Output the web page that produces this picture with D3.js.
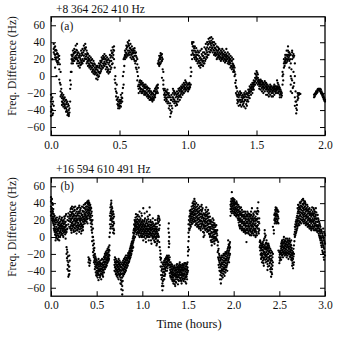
<!DOCTYPE html>
<html><head><meta charset="utf-8">
<script src="https://cdn.jsdelivr.net/npm/d3@7"></script>
<style>html,body{margin:0;padding:0;background:#fff;}svg{display:block;} svg text{font-family:"Liberation Serif","DejaVu Serif",serif !important;}</style>
</head><body>
<svg id="chart" width="339" height="339"></svg>
<script>
// Panel titles / labels
const titleA = "+8 364 262 410 Hz";
const titleB = "+16 594 610 491 Hz";
const tagA = "(a)", tagB = "(b)";
const yLabel = "Freq. Difference (Hz)";
const xLabel = "Time (hours)";
const yTicks = [-60,-40,-20,0,20,40,60];
const xTicksA = [0,0.5,1.0,1.5,2.0];
const xTicksB = [0,0.5,1.0,1.5,2.0,2.5,3.0];

// Panel (a): [time (h), freq differences (Hz) observed near that time...]
const seriesA = [
[0.00,-22,-30,-36,-42,-47],[0.01,-25,-33,-40,-46,20],[0.02,38,32,28,-35],[0.03,35,30,25,22,10],
[0.04,30,26,22,18,0],[0.05,26,22,18,14],[0.06,24,20,8,-4],[0.07,5,-10,-18,-24],
[0.08,-20,-26,-30,-34],[0.09,-22,-28,-32,-36],[0.10,-25,-30,-35,-38],[0.11,-28,-33,-38,-42],
[0.12,-30,-36,-42,-46],[0.13,-35,-40,-45,-47],[0.14,-30,-15,-5],[0.15,5,15,20,25],
[0.16,15,20,25,30],[0.17,18,22,27,32],[0.18,20,24,28,36],[0.19,15,20,25,30,38],
[0.20,12,18,22,28],[0.21,10,16,22,26],[0.22,14,18,24,30],[0.23,15,20,25,32],
[0.24,18,24,30,36],[0.25,20,26,32,38],[0.26,15,20,25,30],[0.27,12,18,22,26],
[0.28,10,14,20,24],[0.29,8,12,16,22],[0.30,5,10,15,20],[0.31,3,8,12,18],
[0.32,2,6,10,14],[0.33,-3,4,8,12],[0.34,-4,2,7,12],[0.35,0,5,10,15],
[0.36,4,9,14,18],[0.37,8,12,18,22],[0.38,10,15,20,24],[0.39,12,17,22,26],
[0.40,8,14,20,24],[0.41,5,10,16,22],[0.42,3,8,14,20],[0.43,5,12,18,25],
[0.44,10,18,24,30],[0.45,15,22,28,34],[0.46,20,30,35],[0.47,0,-8,-15],
[0.48,-10,-20,-28],[0.49,-25,-30,-35,-38],[0.50,-28,-32,-36,-38],[0.51,-22,-28,-32,-36],
[0.52,-20,-26,-30],[0.53,-10,5,20],[0.54,20,25,30,24],[0.55,22,27,32,36],
[0.56,24,30,35,40],[0.57,25,30,36,42],[0.58,22,28,33,38],[0.59,20,26,30,35],
[0.60,22,27,32,30],[0.61,18,24,30,33],[0.62,10,18,24,28],[0.63,5,14,20,-5],
[0.64,-10,-15,-20,10],[0.65,-5,-10,-14,-18],[0.66,-6,-10,-15,-20],[0.67,-8,-12,-16,-20],
[0.68,-10,-14,-18,-22],[0.69,-10,-14,-18,-22],[0.70,-12,-16,-20,-24],[0.71,-14,-18,-22,-26],
[0.72,-15,-20,-24,-28],[0.73,-18,-22,-26,-28],[0.74,-20,-24,-28,-30],[0.75,-18,-22,-26,-28],
[0.76,-15,-18,-22,-25],[0.77,-12,-16,-20],[0.78,-10,-14,-20,15],[0.79,12,16,20,24],
[0.80,15,20,24,27],[0.81,18,22,26,-2],[0.82,-5,-10,5,-15],[0.83,-15,-20,-25,-28],
[0.84,-18,-22,-26,-30],[0.85,-16,-20,-25,-32],[0.86,-20,-25,-32,-38],[0.87,-25,-32,-40,-48],
[0.88,-22,-28,-35,-42],[0.89,-15,-20,-25,-30],[0.90,-18,-22,-28,-32],[0.91,-20,-25,-30,-35],
[0.92,-18,-24,-30,-34],[0.93,-15,-20,-25,-30],[0.94,-14,-18,-24,-28],[0.95,-12,-16,-20,-25],
[0.96,-10,-14,-18,-22],[0.97,-8,-12,-16,-20],[0.98,-5,-10,-14,-18],[0.99,-8,-12,-16],
[1.00,-10,-14,-18],[1.01,-8,-12,-15],[1.02,0,10,-10],[1.03,20,30,38,40],
[1.04,25,30,35,40],[1.05,20,25,30,35],[1.06,18,22,28,33],[1.07,15,20,25,30],
[1.08,12,18,24,28],[1.09,10,16,22,30],[1.10,14,20,26,32],[1.11,12,18,24,28],
[1.12,15,22,28,34],[1.13,20,26,32,38],[1.14,22,28,34,40],[1.15,25,32,38,44],
[1.16,28,34,40,45],[1.17,30,36,42,46],[1.18,28,34,40,44],[1.19,25,30,36,40],
[1.20,24,28,33,38],[1.21,20,25,30,35],[1.22,22,26,30,34],[1.23,20,24,28,32],
[1.24,18,22,26,30],[1.25,20,24,28,32],[1.26,18,22,26,30],[1.27,16,20,25,28],
[1.28,18,22,26,32],[1.29,15,20,24,28],[1.30,14,18,22,26],[1.31,10,15,20,24],
[1.32,8,12,18,22],[1.33,5,10,14,20],[1.34,0,5,10],[1.35,-5,-12,-20],
[1.36,-18,-24,-28,-32],[1.37,-20,-25,-30,-35],[1.38,-18,-22,-28,-34],[1.39,-20,-25,-30,-36],
[1.40,-22,-26,-30,-34],[1.41,-20,-25,-30,-36],[1.42,-18,-24,-28,-38],[1.43,-20,-25,-30,-35],
[1.44,-16,-20,-25,-30],[1.45,-12,-16,-20,-26],[1.46,-10,-14,-18,-22],[1.47,-8,-12,-16,-20],
[1.48,-5,-8,-12,-16],[1.49,-2,3,-6,-10],[1.50,0,6,-4,-8],[1.51,-2,2,-6,-10],
[1.52,-5,-8,-12,-15],[1.53,-4,-8,-12,-16],[1.54,-6,-10,-14,-18],[1.55,-8,-12,-16,-20],
[1.56,-6,-10,-14,-18],[1.57,-8,-12,-16,-22],[1.58,-10,-14,-18,-22],[1.59,-12,-16,-20,-24],
[1.60,-10,-14,-18,-22],[1.61,-12,-16,-20,-24],[1.62,-14,-17,-20,-24],[1.63,-10,-14,-18,-22],
[1.64,-12,-15,-18,-20],[1.65,-5,-12,-16,-20],[1.66,-10,-14,-18,-20],[1.67,-14,-18,-22,-25],
[1.68,-18,-22,-25],[1.69,-10,0,5],[1.70,10,15,20],[1.71,15,18,22,25],
[1.72,16,20,25,30],[1.73,20,25,30,35],[1.74,18,24,28,10],[1.75,0,-10,-18,25,15],
[1.76,20,28,30,-5,-20],[1.77,22,26,5,-12],[1.78,15,0,-25,-35],[1.79,-30,-38,-44],
[1.80,-20,-24,-28],[1.81,-20,-22],[1.82,-21],
[1.92,-25,-22],[1.93,-22,-20],[1.94,-20,-18],[1.95,-17,-15],[1.96,-15,-17],
[1.97,-16,-19],[1.98,-20,-23],[1.99,-24,-27],[2.00,-28,-30]
];
// Panel (a): further readings between the columns above
const seriesA2 = [
[0.005,-27,-39],[0.015,-30,-44],[0.025,34,26],[0.035,31,20],[0.045,27,16],[0.055,24,16],[0.065,14,-8],
[0.075,-15,-22],[0.085,-24,-31],[0.095,-26,-33],[0.105,-28,-37],[0.115,-31,-40],[0.125,-33,-44],
[0.135,-38,-43],[0.145,-10,5],[0.155,18,23],[0.165,18,27],[0.175,21,29],[0.185,22,31],[0.195,18,27],
[0.205,15,24],[0.215,13,20],[0.225,16,27],[0.235,18,28],[0.245,21,33],[0.255,23,34],[0.265,17,27],
[0.275,15,20],[0.285,12,18],[0.295,10,19],[0.305,7,13],[0.315,5,15],[0.325,4,8],[0.335,1,10],
[0.345,-1,5],[0.355,3,12],[0.365,6,16],[0.375,10,20],[0.385,13,22],[0.395,15,20],[0.405,11,18],
[0.415,7,19],[0.425,5,16],[0.435,8,22],[0.445,14,27],[0.455,25,31],[0.465,10,-4],[0.475,-18,-24],
[0.485,-27,-33],[0.495,-30,-34],[0.505,-30,-35],[0.515,-25,-30],[0.525,-14,0],[0.535,12,22],
[0.545,23,28],[0.555,25,34],[0.565,27,38],[0.575,28,33],[0.585,25,31],[0.595,23,28],[0.605,20,28],
[0.615,15,27],[0.625,8,22],[0.635,-12,0],[0.645,-7,-12],[0.655,-8,-16],[0.665,-9,-18],[0.675,-11,-17],
[0.685,-12,-20],[0.695,-13,-20],[0.705,-14,-22],[0.715,-17,-24],[0.725,-18,-25],[0.735,-20,-27],
[0.745,-21,-26],[0.755,-17,-24],[0.765,-14,-20],[0.775,-11,-18],[0.785,14,18],[0.795,14,22],
[0.805,17,25],[0.815,20,8],[0.825,-17,-22],[0.835,-17,-23],[0.845,-19,-28],[0.855,-22,-30],
[0.865,-23,-35],[0.875,-28,-44],[0.885,-25,-38],[0.895,-17,-27],[0.905,-20,-30],[0.915,-22,-32],
[0.925,-21,-27],[0.935,-17,-23],[0.945,-16,-22],[0.955,-14,-18],[0.965,-12,-20],[0.975,-10,-14],
[0.985,-7,-16],[0.995,-10,-14],[1.005,-9,-16],[1.015,-10,-13],[1.025,5,25],[1.035,27,35],
[1.045,22,33],[1.055,23,28],[1.065,20,25],[1.075,17,28],[1.085,15,21],[1.095,13,19],[1.105,17,24],
[1.115,15,21],[1.125,18,26],[1.135,23,30],[1.145,25,37],[1.155,29,41],[1.165,31,38],[1.175,33,39],
[1.185,31,37],[1.195,27,33],[1.205,26,31],[1.215,22,28],[1.225,24,32],[1.235,22,26],[1.245,20,28],
[1.255,22,26],[1.265,20,24],[1.275,18,23],[1.285,20,24],[1.295,17,22],[1.305,16,20],[1.315,12,18],
[1.325,10,15],[1.335,7,12],[1.345,2,-8],[1.355,-14,-22],[1.365,-22,-30],[1.375,-23,-28],
[1.385,-20,-31],[1.395,-23,-28],[1.405,-24,-32],[1.415,-22,-28],[1.425,-21,-33],[1.435,-22,-28],
[1.445,-18,-23],[1.455,-14,-18],[1.465,-12,-16],[1.475,-10,-14],[1.485,-7,-10],[1.495,-3,2],
[1.505,-2,4],[1.515,-4,-8],[1.525,-6,-10],[1.535,-6,-10],[1.545,-8,-12],[1.555,-10,-14],
[1.565,-8,-12],[1.575,-10,-14],[1.585,-12,-16],[1.595,-14,-18],[1.605,-12,-16],[1.615,-14,-18],
[1.625,-12,-16],[1.635,-12,-16],[1.645,-14,-17],[1.655,-8,-14],[1.665,-12,-16],[1.675,-16,-20],
[1.685,-20,-23],[1.695,-5,2],[1.705,12,17],[1.715,16,20],[1.725,18,23],[1.735,22,28],[1.745,20,26],
[1.755,8,-3],[1.765,24,-14],[1.775,24,-8],[1.785,-18,-30],[1.795,-34,-40],[1.805,-22,-26],[1.815,-21],
[1.925,-24,-21],[1.935,-21,-18],[1.945,-19,-16],[1.955,-16,-15],[1.965,-15,-18],[1.975,-18,-21],
[1.985,-22,-25],[1.995,-26,-29]
];

// Panel (b): [time (h), freq differences (Hz) observed near that time...]
const seriesB = [
[0.00,47,42,36,30,25],[0.01,45,40,34,28,22],[0.02,38,30,24,18,28],[0.03,27,20,14,10],
[0.04,25,18,12,6],[0.05,22,15,8,2,-4],[0.06,20,12,6,0],[0.07,18,10,4,-2],
[0.08,20,14,8,2],[0.09,22,16,10,4,-4],[0.10,18,12,6,0],[0.11,20,14,10,5],
[0.12,23,16,10,4],[0.13,18,12,8,2],[0.14,20,15,10,5],[0.15,22,16,12,6],
[0.16,25,18,12,8,-2],[0.17,14,6,-12,-20],[0.18,20,10,-18,-28,-38],[0.19,28,15,-30,-40,-47],
[0.20,22,12,-22,-35,-44],[0.21,30,24,18,10],[0.22,34,26,20,14,8],[0.23,36,28,22,16,10],
[0.24,30,24,18,12],[0.25,35,26,20,14,6],[0.26,32,25,20,15,10],[0.27,28,22,16,10],
[0.28,30,24,18,12,4],[0.29,34,26,20,14,8],[0.30,30,22,16,10],[0.31,37,28,20,14,6],
[0.32,32,24,18,12],[0.33,28,22,16,10,4],[0.34,36,26,20,14],[0.35,30,24,18,12,8],
[0.36,38,30,24,18],[0.37,34,28,22,16],[0.38,40,32,26,20],[0.39,36,30,24,18],
[0.40,42,36,28,22,16],[0.41,43,38,32,26,-24,-30],[0.42,40,34,28,22,-26,-34],[0.43,38,32,26,20,-28],
[0.44,34,28,20,12],[0.45,25,15,5,-5],[0.46,10,0,-10,-18],[0.47,-8,-16,-24,-30],
[0.48,-20,-26,-32,-38],[0.49,-25,-30,-36,-42],[0.50,-28,-34,-40,-46],[0.51,-30,-36,-42,-48],
[0.52,-26,-32,-38,-44,-51],[0.53,-30,-35,-40,-45],[0.54,-28,-34,-40,-46],[0.55,-32,-38,-44,-50],
[0.56,-26,-32,-38,-44],[0.57,-30,-36,-42,-47],[0.58,-24,-30,-36,-42],[0.59,-20,-26,-32,-38],
[0.60,-18,-24,-30,-36],[0.61,-16,-22,-28,-34],[0.62,-14,-20,-26,-30],[0.63,-12,-18,-24,-28],
[0.64,-10,-16,-22,0],[0.65,10,20,28,35],[0.66,15,24,32,40,43],[0.67,10,18,26,34],
[0.68,5,14,22,30],[0.69,8,16,24,4],[0.70,-24,-30,-36],[0.71,-26,-32,-38,-44],
[0.72,-28,-34,-40,-46],[0.73,-30,-36,-42,-48],[0.74,-26,-32,-38,-44,-50],[0.75,-28,-34,-40,-46],
[0.76,-30,-36,-42,-48,-55],[0.77,-32,-40,-48,-56,-62],[0.78,-30,-38,-48,-58,-68],[0.79,-28,-34,-40,-46],
[0.80,-26,-32,-38,-44],[0.81,-24,-30,-36,-42],[0.82,-22,-28,-34,-40],[0.83,-25,-30,-36],
[0.84,-22,-28,-34],[0.85,-20,-25,-30],[0.86,-16,-22,-27],[0.87,-12,-18,-24],
[0.88,-8,-14,-20],[0.89,-5,-10,-16],[0.90,0,-6,-12,5],[0.91,4,10,-2,15],
[0.92,6,12,18,0],[0.93,8,14,20,27],[0.94,5,12,18,24],[0.95,6,12,18,26],
[0.96,2,8,14,20],[0.97,0,6,12,18,30],[0.98,4,10,16,22],[0.99,0,6,12,18,28],
[1.00,2,8,14,20],[1.01,-4,4,10,16,34],[1.02,0,6,12,18],[1.03,2,8,14,22],
[1.04,-6,4,10,16],[1.05,0,6,12,20,30],[1.06,2,8,14,24],[1.07,-4,4,10,18],
[1.08,0,6,12,26,35],[1.09,2,8,14,20],[1.10,-8,2,8,14],[1.11,0,6,12,18],
[1.12,4,10,16],[1.13,-4,2,8,14],[1.14,-6,0,6,12,20],[1.15,-2,4,10,16],
[1.16,-8,0,6,12],[1.17,16,22,4,-4],[1.18,18,24,8,0],[1.19,20,14,-12],
[1.20,-20,-27,-35],[1.21,-30,-40,-50],[1.22,-35,-45,-55,-63],[1.23,-30,-38,-46,-58],
[1.24,-28,-35,-42,-50],[1.25,-26,-32,-38,-44],[1.26,-24,-30,-36],[1.27,-22,-26,-32,-40],
[1.28,-24,-28,-34],[1.29,-22,-28,16,5,-5,-12],[1.30,-24,-30,-36,-43],[1.31,-30,-36,-42,-48],
[1.32,-32,-38,-44,-50],[1.33,-35,-40,-46,-52],[1.34,-36,-42,-48,-55],[1.35,-34,-40,-46,-52],
[1.36,-38,-44,-50,-58],[1.37,-36,-42,-48,-54],[1.38,-32,-38,-44,-50],[1.39,-36,-42,-48,-56],
[1.40,-34,-40,-46,-52],[1.41,-30,-36,-42,-48],[1.42,-33,-39,-45,-51],[1.43,-36,-42,-48,-55],
[1.44,-32,-38,-44,-50],[1.45,-34,-40,-46,-52],[1.46,-31,-37,-43,-49],[1.47,-35,-41,-47,-53],
[1.48,-33,-39,-45,-55],[1.49,-32,-38,-44,-50],[1.50,-12,-17,-22,-40],[1.51,0,10,20,-15],
[1.52,10,18,25,31],[1.53,12,20,26,32],[1.54,15,22,28,36],[1.55,16,24,30,40],
[1.56,18,26,34,42],[1.57,20,28,36,45],[1.58,14,22,30,38],[1.59,16,24,32,40],
[1.60,12,20,28,36],[1.61,14,22,30,38],[1.62,10,18,26,34],[1.63,12,20,28,36],
[1.64,8,16,24,32],[1.65,14,22,30,38],[1.66,10,18,26,34],[1.67,0,12,20,28],
[1.68,2,10,18,26],[1.69,8,16,24,32],[1.70,10,18,26,35],[1.71,6,14,22,30],
[1.72,8,16,24,32],[1.73,4,12,20,28],[1.74,0,8,16,24],[1.75,-4,4,12,20],
[1.76,-10,0,10,18],[1.77,-6,2,12,22],[1.78,-2,6,14,20],[1.79,-8,0,8,16],
[1.80,-4,4,12],[1.81,-2,6,14],[1.82,-4,2,8],[1.83,-6,-16,-24],
[1.84,-20,-28,-36],[1.85,-24,-32,-40,-50],[1.86,-26,-34,-42,-55],[1.87,-22,-30,-38,-46],
[1.88,-24,-32,-40,-48],[1.89,-20,-28,-36,-44],[1.90,-22,-30,-38,-46],[1.91,-18,-26,-34,-42],
[1.92,-20,-28,-36],[1.93,-16,-24,-32,-40],[1.94,-12,-20,-28,-4],[1.95,-10,-16,-24,-30],
[1.96,-6,-12,-20],[1.97,30,36,42],[1.98,28,34,40,53],[1.99,30,36,42,46],
[2.00,28,34,40,45],[2.01,26,32,38,44],[2.02,28,34,40],[2.03,24,30,36,42],
[2.04,26,32,38],[2.05,20,26,32,38],[2.06,14,22,30,36],[2.07,10,18,26,34],
[2.08,12,20,28,35],[2.09,8,16,24,32],[2.10,10,18,26],[2.11,6,14,22,30],
[2.12,8,16,24],[2.13,4,12,20,28],[2.14,10,18,26,-6],[2.15,8,16,24,30],
[2.16,4,12,20,28],[2.17,8,16,24],[2.18,2,10,18,26],[2.19,6,14,22,30],
[2.20,4,12,20,34],[2.21,8,16,24],[2.22,2,10,18,26],[2.23,6,14,22,30],
[2.24,0,8,16,24],[2.25,4,12,20,28],[2.26,27,34,10,18],[2.27,30,41,6],
[2.28,8,16,22],[2.29,-4,-10,-16],[2.30,-8,-14,-20,-26],[2.31,-10,-16,-22,-30],
[2.32,-6,-12,-20,-28],[2.33,-4,-12,-18,-26,-34],[2.34,8,4,-10,-18,-24],[2.35,2,-8,-14,-22,-30],
[2.36,-4,-12,-18,-26],[2.37,-10,-16,-24,-32,-39],[2.38,-8,-14,-20,-28],[2.39,-12,-18,-26,-34],
[2.40,-14,-22,-30,-38],[2.41,-16,-26,-36,-47],[2.42,-18,-28,-38,-44],[2.43,12,-20,-30],
[2.44,4,8],[2.45,16,22,28],[2.46,18,24,30,35],[2.47,16,22,28,34],
[2.48,20,26,32],[2.49,16,22,30,-16],[2.50,-18,-24,-31],[2.51,-20,-26,-16],
[2.52,-8,-14,-20,-27],[2.53,-4,-10,-16,-22],[2.54,-6,-12,-18,-24],[2.55,0,-8,-14,-20],
[2.56,-4,-10,-16,-22],[2.57,-2,-8,-14,-20],[2.58,-6,-12,-18,-24],[2.59,-4,-10,-16,-22],
[2.60,-8,-14,-20,-26],[2.61,-2,-8,-14,-20],[2.62,-6,-12,-18,-24],[2.63,-4,-10,-16,-22,-27],
[2.64,-16,-22,-28,-34],[2.65,-18,-26,-37],[2.66,-10,-20,-30],[2.67,0,6,12],
[2.68,4,12,18],[2.69,8,16,23],[2.70,12,20,28,34],[2.71,16,24,32,38],
[2.72,14,22,30,36],[2.73,18,26,34,40],[2.74,16,24,32,42],[2.75,20,28,36,44],
[2.76,18,26,34,45],[2.77,16,24,32,40],[2.78,20,28,36,42],[2.79,14,22,30,38],
[2.80,18,26,34],[2.81,12,20,28,36],[2.82,14,22,30],[2.83,10,18,26,34],
[2.84,12,20,28],[2.85,8,16,24,32],[2.86,10,18,26,35],[2.87,12,20,28],
[2.88,8,16,24,32],[2.89,14,22,30],[2.90,10,18,26,34],[2.91,8,14,22],
[2.92,10,18,26],[2.93,4,12,20],[2.94,0,8,16],[2.95,-4,4,12],
[2.96,-10,-2,8],[2.97,-16,-6,4],[2.98,-20,-10,0,10],[2.99,-27,-14,-4,6],
[3.00,-22,-8,2]
];
// Panel (b): further readings between the columns above
const seriesB2 = [
[0.005,44,33,26],[0.015,40,31,20],[0.025,22,16,33],[0.035,24,8,15],[0.045,20,10,3],[0.055,17,5,-1],
[0.065,23,9,2],[0.075,15,7,-3],[0.085,17,11,0],[0.095,24,13,6],[0.105,15,8,2],[0.115,21,12,3],
[0.125,19,7,13],[0.135,16,10,0],[0.145,24,12,7],[0.155,18,9,3],[0.165,27,14,5],[0.175,9,-15,-25],
[0.185,24,-23,-33],[0.195,19,-35,-45],[0.205,26,-28,-40],[0.215,33,21,12],[0.225,29,17,5],
[0.235,33,24,13],[0.245,27,15,8],[0.255,31,22,11],[0.265,36,18,7],[0.275,25,19,13],[0.285,33,21,8],
[0.295,28,17,11],[0.305,35,25,13],[0.315,30,22,9],[0.325,34,20,15],[0.335,26,13,7],[0.345,31,23,11],
[0.355,35,21,15],[0.365,34,27,20],[0.375,39,25,19],[0.385,36,29,23],[0.395,41,33,21],[0.405,39,31,25],
[0.415,41,35,29,-27],[0.425,37,31,24,-31],[0.435,35,23,16],[0.445,30,18,8],[0.455,20,10,0],
[0.465,-4,-14,-22],[0.475,-13,-21,-28],[0.485,-23,-29,-35],[0.495,-27,-33,-45],[0.505,-31,-37,-43],
[0.515,-33,-40,-45],[0.525,-29,-35,-41],[0.535,-32,-38,-48],[0.545,-31,-37,-43],[0.555,-27,-35,-41],
[0.565,-33,-39,-45],[0.575,-27,-33,-39],[0.585,-23,-29,-35],[0.595,-22,-29,-35],[0.605,-20,-27,-33],
[0.615,-19,-25,-31],[0.625,-16,-23,-28],[0.635,-15,-21,-26],[0.645,5,15,25],[0.655,12,22,30,38],
[0.665,20,28,36],[0.675,13,22,30],[0.685,10,18,27],[0.695,-27,-33,-40],[0.705,-29,-35,-41],
[0.715,-30,-37,-43],[0.725,-33,-39,-45],[0.735,-29,-35,-41],[0.745,-31,-37,-44],[0.755,-33,-39,-45],
[0.765,-35,-44,-51],[0.775,-36,-44,-53],[0.785,-33,-43,-52,-63],[0.795,-31,-37,-43],[0.805,-29,-35,-41],
[0.815,-27,-33,-39],[0.825,-25,-31,-37],[0.835,-22,-27,-33],[0.845,-19,-24,-31],[0.855,-18,-23,-29],
[0.865,-14,-20,-25],[0.875,-10,-16,-22],[0.885,-6,-12,-17],[0.895,-2,-8,-13],[0.905,2,8,-4],
[0.915,8,14,20],[0.925,10,16,23],[0.935,11,17,3],[0.945,9,15,21],[0.955,4,10,16],[0.965,5,11,24],
[0.975,8,14,20],[0.985,2,9,15],[0.995,4,11,17,25],[1.005,0,7,13,19],[1.015,3,9,15],[1.025,5,11,20,28],
[1.035,-2,7,13],[1.045,2,9,18],[1.055,4,10,16],[1.065,0,7,13,21],[1.075,3,9,15],[1.085,5,10,18],
[1.095,-4,4,11,17],[1.105,2,9,15],[1.115,-2,4,10,22],[1.125,0,7,13],[1.135,-6,3,10],[1.145,-2,4,9,15],
[1.155,-10,1,8],[1.165,-5,3,9,20],[1.175,2,18,25],[1.185,10,22,-6],[1.195,-16,-24],[1.205,-25,-35,-45],
[1.215,-38,-48,-58],[1.225,-32,-42,-52],[1.235,-33,-41,-50],[1.245,-30,-37,-46],[1.255,-27,-33,-40],
[1.265,-25,-29,-35],[1.275,-23,-30,-37],[1.285,-26,-32,10],[1.295,-27,-33,0,-8],[1.305,-33,-39,-46],
[1.315,-35,-41,-47],[1.325,-33,-42,-48],[1.335,-38,-44,-50],[1.345,-37,-45,-52],[1.355,-36,-43,-56],
[1.365,-40,-46,-53],[1.375,-33,-39,-46],[1.385,-35,-41,-47],[1.395,-38,-45,-51],[1.405,-32,-38,-44],
[1.415,-35,-41,-49],[1.425,-38,-44,-52],[1.435,-34,-40,-46],[1.445,-36,-43,-49],[1.455,-33,-39,-45],
[1.465,-37,-44,-50],[1.475,-31,-38,-48],[1.485,-35,-42,-47],[1.495,-30,-36,-42],[1.505,-5,5,15],
[1.515,8,15,24],[1.525,14,22,28],[1.535,17,24,30],[1.545,19,27,33],[1.555,21,29,37],[1.565,23,31,39],
[1.575,18,26,33,42],[1.585,19,27,35],[1.595,15,23,31],[1.605,17,25,33],[1.615,12,21,29],[1.625,15,23,31],
[1.635,10,19,27],[1.645,12,19,27,36],[1.655,16,24,32],[1.665,6,15,23],[1.675,5,14,22],[1.685,12,19,27],
[1.695,13,21,29],[1.705,9,17,25],[1.715,11,19,27],[1.725,7,15,23],[1.735,3,11,19],[1.745,2,10,18],
[1.755,-6,6,15],[1.765,-3,5,14],[1.775,0,9,17],[1.785,-5,3,11],[1.795,-2,6,14],[1.805,0,8],[1.815,-3,4],
[1.825,-10,-18],[1.835,-14,-26,-33],[1.845,-22,-30,-40],[1.855,-28,-36,-45],[1.865,-24,-32,-40,-50],
[1.875,-27,-35,-43],[1.885,-22,-30,-38],[1.895,-25,-33,-41],[1.905,-20,-28,-36],[1.915,-23,-31,-39],
[1.925,-18,-26,-34],[1.935,-14,-22,-30],[1.945,-9,-18,-26],[1.955,-8,-14,-22],[1.965,25,33,38],
[1.975,33,39,45],[1.985,31,37,43],[1.995,33,39,44],[2.005,30,37,42],[2.015,29,35,40],[2.025,25,32,39],
[2.035,27,33,40],[2.045,22,29,35],[2.055,17,24,32],[2.065,12,20,28],[2.075,14,22,30],[2.085,10,18,26],
[2.095,12,20,29],[2.105,8,16,24],[2.115,10,18,26],[2.125,6,14,22,30],[2.135,8,16,24],[2.145,5,13,21],
[2.155,10,18,26],[2.165,6,14,22],[2.175,3,12,20,27],[2.185,8,16,24],[2.195,2,10,18,26],[2.205,6,14,22],
[2.215,4,12,20,28],[2.225,8,15,22],[2.235,2,10,19],[2.245,6,13,21,30],[2.255,2,12,21],[2.265,14,22,31],
[2.275,4,10,18],[2.285,-6,-12],[2.295,-6,-13,-21],[2.305,-12,-19,-24],[2.315,-8,-15,-24],
[2.325,-9,-16,-24,-31],[2.335,-2,-14,-21],[2.345,0,-12,-20,-27],[2.355,-7,-15,-23],[2.365,-8,-14,-21,-29],
[2.375,-12,-20,-28,-35],[2.385,-10,-17,-24],[2.395,-16,-23,-31],[2.405,-19,-28,-41],[2.415,-22,-32,-42],
[2.425,-24,-34],[2.445,20,26],[2.455,19,26,32],[2.465,21,27,33],[2.475,18,25,31],[2.485,17,24,30],
[2.505,-21,-28],[2.515,-11,-18,-24],[2.525,-6,-12,-19],[2.535,-8,-15,-21],[2.545,-3,-11,-17],
[2.555,-6,-13,-19],[2.565,-5,-11,-18],[2.575,-9,-15,-21],[2.585,-2,-9,-19],[2.595,-6,-12,-19],
[2.605,-4,-11,-17],[2.615,-5,-11,-17,-23],[2.625,-9,-15,-21],[2.635,-13,-19,-25],[2.645,-20,-25,-31],
[2.655,-14,-23,-33],[2.665,-5,3],[2.675,2,9,15],[2.685,6,14,20],[2.695,10,18,25],[2.705,14,22,30,38],
[2.715,19,28,35],[2.725,17,25,33,41],[2.735,21,29,37],[2.745,20,28,36],[2.755,23,31,39],
[2.765,21,29,38,43],[2.775,19,27,35],[2.785,17,25,33,40],[2.795,16,24,32],[2.805,15,23,31,38],
[2.815,16,24,32],[2.825,12,20,28,33],[2.835,14,22,30],[2.845,10,18,26],[2.855,12,20,28],[2.865,14,22,30],
[2.875,10,18,26,34],[2.885,12,20,28],[2.895,8,16,24],[2.905,13,21,29],[2.915,6,12,18],[2.925,7,14,22],
[2.935,2,10,18],[2.945,-2,6,14],[2.955,-7,1,9],[2.965,-12,-4,6],[2.975,-18,-8,2],[2.985,-24,-12,-2],
[2.995,-18,-6,4]
];

const svg = d3.select("#chart");
const FONT = "Liberation Serif, DejaVu Serif, serif";
const FS = 11.5;

function panel(seriesList, xDomain, xTicks, top, bottom, title, tag, titleY, tagY, labelY) {
  const x = d3.scaleLinear().domain(xDomain).range([51, 325]);
  const y = d3.scaleLinear().domain([-70, 70]).range([bottom, top]);
  const g = svg.append("g");
  const pts = [];
  seriesList.forEach(series => series.forEach(col => {
    for (let i = 1; i < col.length; i++) pts.push([col[0], col[i]]);
  }));
  g.append("g").selectAll("circle").data(pts).join("circle")
    .attr("cx", d => x(d[0])).attr("cy", d => y(d[1])).attr("r", 1.15).attr("fill", "#000");

  const fmt = d3.format(".1f");
  const yfmt = d3.format("d");
  const left = g.append("g").attr("transform", "translate(51,0)")
    .call(d3.axisLeft(y).tickValues(yTicks).tickFormat(yfmt).tickSize(-5).tickPadding(6));
  const right = g.append("g").attr("transform", "translate(325,0)")
    .call(d3.axisRight(y).tickValues(yTicks).tickFormat("").tickSize(-5));
  const bottomAx = g.append("g").attr("transform", `translate(0,${bottom})`)
    .call(d3.axisBottom(x).tickValues(xTicks).tickFormat(fmt).tickSize(-5).tickPadding(5));
  const topAx = g.append("g").attr("transform", `translate(0,${top})`)
    .call(d3.axisTop(x).tickValues(xTicks).tickFormat("").tickSize(-5));
  [left, right, bottomAx, topAx].forEach(a => {
    a.select(".domain").remove();
    a.selectAll("line").attr("stroke", "#000").attr("stroke-width", 1);
    a.attr("font-family", null).attr("font-size", FS);
    a.selectAll("text").style("font-family", FONT).attr("fill", "#111");
  });
  g.append("rect").attr("x", 51).attr("y", top).attr("width", 274).attr("height", bottom - top)
    .attr("fill", "none").attr("stroke", "#000").attr("stroke-width", 1.3);

  g.append("text").attr("x", 56).attr("y", titleY).style("font-family", FONT).attr("font-size", FS)
    .attr("fill", "#111").text(title);
  g.append("text").attr("x", 60.5).attr("y", tagY).style("font-family", FONT).attr("font-size", FS)
    .attr("fill", "#111").text(tag);
  g.append("text").attr("transform", `translate(15.5,${labelY}) rotate(-90)`).attr("text-anchor", "middle")
    .style("font-family", FONT).attr("font-size", FS).attr("fill", "#111").text(yLabel);
}

panel([seriesA, seriesA2], [0, 2], xTicksA, 16.8, 135.5, titleA, tagA, 12.5, 29.5, 66);
panel([seriesB, seriesB2], [0, 3], xTicksB, 177.8, 296.2, titleB, tagB, 172.5, 189.5, 227);

svg.append("text").attr("x", 189).attr("y", 327.5).attr("text-anchor", "middle")
  .style("font-family", FONT).attr("font-size", 12.5).attr("fill", "#111").text(xLabel);
</script>
</body></html>
